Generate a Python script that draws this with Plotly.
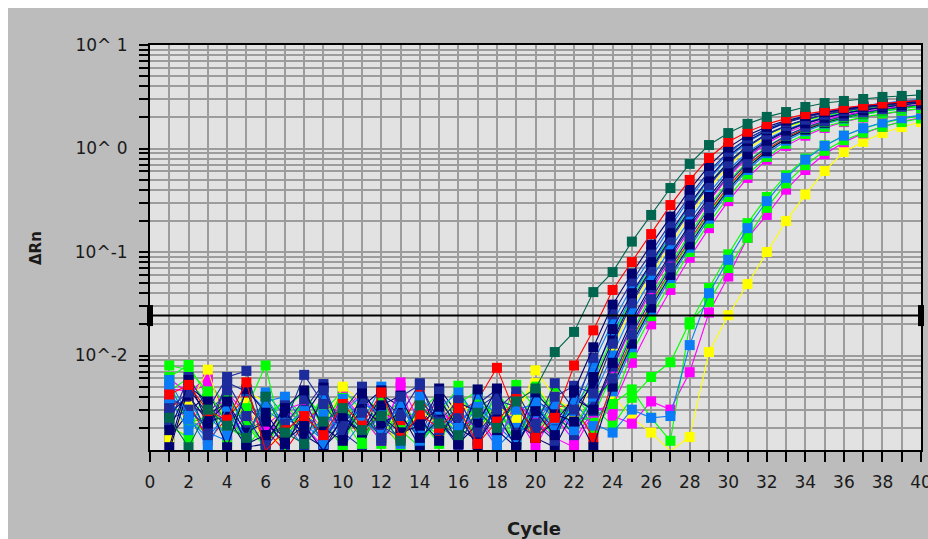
import plotly.graph_objects as go

cycles = list(range(1, 41))

threshold = 0.0243

teal_1 = [0.0025, 0.0013, 0.0030, 0.0021, 0.0016, 0.0040, 0.0018, 0.0014, 0.0023, 0.0031,
          0.0019, 0.0026, 0.0015, 0.0033, 0.0022, 0.0017, 0.0028, 0.0020, 0.0036, 0.0048,
          0.0108, 0.0169, 0.041, 0.064, 0.126, 0.228, 0.415, 0.71, 1.08, 1.41,
          1.73, 2.02, 2.25, 2.52, 2.75, 2.88, 3.01, 3.15, 3.22, 3.30]
red_1 = [0.0042, 0.0052, 0.0029, 0.0024, 0.0055, 0.0012, 0.0019, 0.0026, 0.0017, 0.0034,
         0.0021, 0.0044, 0.0016, 0.0027, 0.0020, 0.0031, 0.0014, 0.0023, 0.0038, 0.0016,
         0.0025, 0.0080, 0.0175, 0.043, 0.080, 0.149, 0.284, 0.497, 0.81, 1.16,
         1.45, 1.72, 1.95, 2.15, 2.32, 2.47, 2.60, 2.72, 2.82, 2.92]
navy_1 = [0.0013, 0.0058, 0.0022, 0.0036, 0.0014, 0.0017, 0.0031, 0.0046, 0.0020, 0.0015,
          0.0043, 0.0026, 0.0018, 0.0021, 0.0032, 0.0014, 0.0047, 0.0019, 0.0013, 0.0029,
          0.0017, 0.0046, 0.012, 0.031, 0.062, 0.118, 0.22, 0.40, 0.68, 1.02,
          1.34, 1.62, 1.86, 2.06, 2.24, 2.40, 2.53, 2.65, 2.75, 2.85]
dblue_1 = [0.0031, 0.0044, 0.0017, 0.0055, 0.0026, 0.0013, 0.0022, 0.0065, 0.0034, 0.0019,
           0.0028, 0.0016, 0.0040, 0.0052, 0.0023, 0.0037, 0.0018, 0.0030, 0.0045, 0.0021,
           0.0054, 0.0030, 0.0095, 0.025, 0.052, 0.100, 0.19, 0.35, 0.60, 0.93,
           1.25, 1.55, 1.80, 2.02, 2.20, 2.37, 2.52, 2.65, 2.76, 2.86]
lblue_1 = [0.0058, 0.0026, 0.0013, 0.0032, 0.0016, 0.0040, 0.0021, 0.0029, 0.0014, 0.0038,
           0.0024, 0.0017, 0.0035, 0.0015, 0.0027, 0.0020, 0.0042, 0.0016, 0.0030, 0.0034,
           0.0019, 0.0035, 0.0085, 0.021, 0.046, 0.090, 0.175, 0.33, 0.57, 0.90,
           1.24, 1.55, 1.82, 2.06, 2.27, 2.45, 2.60, 2.74, 2.86, 2.97]
navy_2 = [0.0019, 0.0050, 0.0036, 0.0013, 0.0047, 0.0028, 0.0015, 0.0021, 0.0012, 0.0026,
          0.0018, 0.0033, 0.0041, 0.0016, 0.0024, 0.0014, 0.0022, 0.0048, 0.0017, 0.0044,
          0.0027, 0.0023, 0.0062, 0.018, 0.040, 0.080, 0.155, 0.29, 0.52, 0.84,
          1.18, 1.50, 1.78, 2.02, 2.22, 2.40, 2.55, 2.68, 2.80, 2.90]
green_1 = [0.0080, 0.0073, 0.0045, 0.0022, 0.0031, 0.0080, 0.0012, 0.0044, 0.0024, 0.0039,
           0.0014, 0.0035, 0.0019, 0.0013, 0.0029, 0.0017, 0.0036, 0.0025, 0.0015, 0.0033,
           0.0021, 0.0032, 0.0058, 0.015, 0.036, 0.072, 0.14, 0.26, 0.46, 0.74,
           1.05, 1.36, 1.63, 1.87, 2.08, 2.26, 2.42, 2.55, 2.67, 2.78]
dblue_2 = [0.0022, 0.0062, 0.0030, 0.0062, 0.0071, 0.0016, 0.0033, 0.0013, 0.0046, 0.0021,
           0.0038, 0.0015, 0.0027, 0.0054, 0.0019, 0.0026, 0.0014, 0.0037, 0.0032, 0.0018,
           0.0040, 0.0051, 0.0043, 0.013, 0.032, 0.066, 0.13, 0.245, 0.44, 0.72,
           1.04, 1.36, 1.65, 1.90, 2.12, 2.31, 2.47, 2.61, 2.73, 2.84]
yellow_1 = [0.0016, 0.0032, 0.0073, 0.0019, 0.0035, 0.0013, 0.0017, 0.0028, 0.0020, 0.0050,
            0.0036, 0.0023, 0.0014, 0.0030, 0.0021, 0.0043, 0.0018, 0.0033, 0.0024, 0.0072,
            0.0040, 0.0028, 0.0050, 0.012, 0.029, 0.060, 0.118, 0.225, 0.41, 0.68,
            0.99, 1.30, 1.58, 1.83, 2.05, 2.24, 2.40, 2.54, 2.66, 2.77]
lblue_2 = [0.0050, 0.0024, 0.0016, 0.0028, 0.0016, 0.0036, 0.0040, 0.0022, 0.0015, 0.0027,
           0.0042, 0.0019, 0.0034, 0.0017, 0.0031, 0.0044, 0.0025, 0.0013, 0.0020, 0.0028,
           0.0033, 0.0019, 0.0040, 0.010, 0.026, 0.055, 0.108, 0.205, 0.37, 0.62,
           0.92, 1.23, 1.52, 1.78, 2.01, 2.21, 2.38, 2.53, 2.66, 2.78]
navy_3 = [0.0027, 0.0041, 0.0023, 0.0026, 0.0013, 0.0014, 0.0028, 0.0017, 0.0013, 0.0020,
          0.0032, 0.0046, 0.0018, 0.0024, 0.0015, 0.0035, 0.0029, 0.0019, 0.0040, 0.0016,
          0.0023, 0.0038, 0.0030, 0.0085, 0.022, 0.048, 0.095, 0.185, 0.34, 0.58,
          0.88, 1.19, 1.49, 1.75, 1.98, 2.18, 2.35, 2.50, 2.63, 2.75]
magenta_1 = [0.0048, 0.0045, 0.0052, 0.0017, 0.0026, 0.0021, 0.0030, 0.0035, 0.0018, 0.0041,
             0.0025, 0.0015, 0.0055, 0.0022, 0.0031, 0.0019, 0.0027, 0.0014, 0.0036, 0.0023,
             0.0016, 0.0013, 0.0028, 0.0075, 0.019, 0.042, 0.084, 0.165, 0.31, 0.53,
             0.82, 1.12, 1.41, 1.67, 1.90, 2.10, 2.27, 2.42, 2.55, 2.66]
green_2 = [0.0062, 0.0081, 0.0039, 0.0014, 0.0048, 0.0016, 0.0021, 0.0036, 0.0029, 0.0045,
           0.0017, 0.0023, 0.0038, 0.0014, 0.0026, 0.0051, 0.0020, 0.0031, 0.0017, 0.0025,
           0.0044, 0.0022, 0.0026, 0.0066, 0.017, 0.038, 0.076, 0.15, 0.28, 0.48,
           0.75, 1.04, 1.33, 1.59, 1.82, 2.02, 2.19, 2.34, 2.47, 2.58]
dblue_3 = [0.0037, 0.0033, 0.0027, 0.0046, 0.0019, 0.0024, 0.0013, 0.0030, 0.0053, 0.0018,
           0.0013, 0.0039, 0.0026, 0.0016, 0.0045, 0.0022, 0.0034, 0.0047, 0.0015, 0.0037,
           0.0028, 0.0017, 0.0036, 0.0060, 0.016, 0.035, 0.071, 0.14, 0.265, 0.46,
           0.73, 1.03, 1.33, 1.60, 1.84, 2.05, 2.23, 2.39, 2.53, 2.65]
red_2 = [0.0033, 0.0036, 0.0015, 0.0025, 0.0040, 0.0019, 0.0012, 0.0022, 0.0034, 0.0027,
         0.0016, 0.0030, 0.0021, 0.0043, 0.0018, 0.0028, 0.0037, 0.0076, 0.0026, 0.0016,
         0.0032, 0.0033, 0.0016, 0.0055, 0.0145, 0.032, 0.066, 0.13, 0.245, 0.43,
         0.69, 0.98, 1.28, 1.56, 1.80, 2.01, 2.19, 2.35, 2.48, 2.60]
lblue_3 = [0.0041, 0.0029, 0.0020, 0.0033, 0.0014, 0.0044, 0.0026, 0.0018, 0.0038, 0.0013,
           0.0023, 0.0050, 0.0017, 0.0032, 0.0021, 0.0015, 0.0039, 0.0027, 0.0019, 0.0030,
           0.0018, 0.0036, 0.0021, 0.0045, 0.012, 0.027, 0.056, 0.11, 0.21, 0.38,
           0.62, 0.90, 1.19, 1.47, 1.72, 1.94, 2.13, 2.29, 2.43, 2.56]
green_3 = [0.0054, 0.0022, 0.0026, 0.0038, 0.0021, 0.0013, 0.0027, 0.0020, 0.0042, 0.0017,
           0.0031, 0.0024, 0.0013, 0.0035, 0.0019, 0.0028, 0.0016, 0.0046, 0.0023, 0.0041,
           0.0030, 0.0026, 0.0019, 0.0034, 0.0105, 0.024, 0.050, 0.10, 0.19, 0.34,
           0.56, 0.83, 1.11, 1.38, 1.62, 1.83, 2.01, 2.17, 2.31, 2.44]
magenta_2 = [0.0060, 0.0043, 0.0063, 0.0025, 0.0030, 0.0018, 0.0023, 0.0032, 0.0016, 0.0029,
             0.0044, 0.0020, 0.0015, 0.0027, 0.0034, 0.0018, 0.0024, 0.0013, 0.0038, 0.0021,
             0.0026, 0.0015, 0.0030, 0.0032, 0.0085, 0.020, 0.043, 0.088, 0.17, 0.31,
             0.52, 0.78, 1.06, 1.33, 1.58, 1.80, 1.99, 2.15, 2.29, 2.42]
lblue_4 = [0.0029, 0.0038, 0.0018, 0.0015, 0.0034, 0.0025, 0.0013, 0.0041, 0.0022, 0.0031,
           0.0017, 0.0026, 0.0036, 0.0014, 0.0024, 0.0030, 0.0019, 0.0045, 0.0016, 0.0023,
           0.0037, 0.0028, 0.0022, 0.0018, 0.0030, 0.0025, 0.0026, 0.0126, 0.040, 0.084,
           0.17, 0.31, 0.52, 0.78, 1.06, 1.33, 1.57, 1.78, 1.96, 2.12]
green_4 = [0.0021, 0.0016, 0.0058, 0.0031, 0.0013, 0.0022, 0.0039, 0.0026, 0.0018, 0.0048,
           0.0029, 0.0014, 0.0033, 0.0023, 0.0017, 0.0040, 0.0026, 0.0020, 0.0052, 0.0031,
           0.0015, 0.0042, 0.0024, 0.0034, 0.0047, 0.0025, 0.0015, 0.020, 0.045, 0.095,
           0.19, 0.34, 0.55, 0.80, 1.07, 1.33, 1.56, 1.76, 1.93, 2.08]
green_6 = [0.0034, 0.0025, 0.0017, 0.0041, 0.0022, 0.0014, 0.0030, 0.0045, 0.0019, 0.0026,
           0.0013, 0.0037, 0.0021, 0.0028, 0.0044, 0.0016, 0.0024, 0.0033, 0.0014, 0.0050,
           0.0027, 0.0018, 0.0032, 0.0021, 0.0039, 0.0062, 0.0086, 0.021, 0.033, 0.070,
           0.137, 0.267, 0.46, 0.69, 0.95, 1.20, 1.42, 1.62, 1.80, 1.95]
magenta_3 = [0.0035, 0.0024, 0.0019, 0.0044, 0.0027, 0.0016, 0.0031, 0.0021, 0.0013, 0.0037,
             0.0025, 0.0018, 0.0049, 0.0015, 0.0028, 0.0022, 0.0036, 0.0017, 0.0027, 0.0013,
             0.0029, 0.0019, 0.0033, 0.0026, 0.0022, 0.0036, 0.0030, 0.0069, 0.026, 0.058,
             0.137, 0.228, 0.40, 0.62, 0.88, 1.15, 1.40, 1.62, 1.82, 1.98]
yellow_2 = [0.0020, 0.0017, 0.0030, 0.0023, 0.0046, 0.0035, 0.0014, 0.0026, 0.0019, 0.0045,
            0.0027, 0.0016, 0.0032, 0.0021, 0.0038, 0.0015, 0.0042, 0.0024, 0.0031, 0.0054,
            0.0028, 0.0037, 0.0022, 0.0041, 0.0025, 0.0018, 0.0012, 0.00163, 0.0108, 0.0245,
            0.049, 0.100, 0.199, 0.36, 0.607, 0.925, 1.16, 1.41, 1.61, 1.80]
navy_4 = [0.0012, 0.0048, 0.0027, 0.0035, 0.0018, 0.0023, 0.0014, 0.0026, 0.0049, 0.0016,
          0.0031, 0.0022, 0.0028, 0.0013, 0.0038, 0.0020, 0.0015, 0.0027, 0.0013, 0.0032,
          0.0019, 0.0031, 0.0052, 0.014, 0.034, 0.069, 0.135, 0.255, 0.455, 0.74,
          1.06, 1.38, 1.66, 1.91, 2.13, 2.32, 2.49, 2.64, 2.77, 2.88]
dblue_4 = [0.0024, 0.0030, 0.0020, 0.0055, 0.0045, 0.0017, 0.0021, 0.0038, 0.0015, 0.0029,
           0.0050, 0.0021, 0.0016, 0.0036, 0.0024, 0.0013, 0.0031, 0.0042, 0.0018, 0.0022,
           0.0015, 0.0042, 0.0029, 0.0078, 0.020, 0.045, 0.090, 0.175, 0.32, 0.55,
           0.85, 1.16, 1.46, 1.73, 1.97, 2.18, 2.36, 2.52, 2.66, 2.78]
lblue_5 = [0.0038, 0.0019, 0.0026, 0.0017, 0.0046, 0.0030, 0.0022, 0.0013, 0.0027, 0.0019,
           0.0034, 0.0028, 0.0014, 0.0040, 0.0025, 0.0018, 0.0032, 0.0021, 0.0014, 0.0039,
           0.0024, 0.0029, 0.0068, 0.016, 0.038, 0.076, 0.148, 0.28, 0.50, 0.81,
           1.15, 1.48, 1.77, 2.02, 2.24, 2.43, 2.59, 2.73, 2.86, 2.97]
green_5 = [0.0045, 0.0061, 0.0033, 0.0020, 0.0016, 0.0027, 0.0036, 0.0019, 0.0023, 0.0013,
           0.0040, 0.0029, 0.0018, 0.0024, 0.0014, 0.0034, 0.0046, 0.0021, 0.0027, 0.0017,
           0.0036, 0.0020, 0.0042, 0.0052, 0.014, 0.031, 0.064, 0.125, 0.235, 0.41,
           0.66, 0.95, 1.24, 1.51, 1.75, 1.96, 2.14, 2.30, 2.44, 2.56]
navy_5 = [0.0016, 0.0028, 0.0043, 0.0022, 0.0033, 0.0021, 0.0017, 0.0030, 0.0014, 0.0024,
          0.0018, 0.0042, 0.0032, 0.0019, 0.0048, 0.0027, 0.0013, 0.0035, 0.0023, 0.0016,
          0.0013, 0.0030, 0.0013, 0.0050, 0.013, 0.029, 0.060, 0.118, 0.225, 0.40,
          0.65, 0.94, 1.24, 1.52, 1.77, 1.99, 2.18, 2.34, 2.48, 2.61]

TEAL = "#00664f"
RED = "#ff0000"
NAVY = "#000070"
DBLUE = "#1c2c9c"
LBLUE = "#0a7cf8"
GREEN = "#00ff00"
YELLOW = "#ffff00"
MAGENTA = "#ff00ff"

series = [
    ("yellow_2", yellow_2, YELLOW),
    ("magenta_3", magenta_3, MAGENTA),
    ("green_4", green_4, GREEN),
    ("green_6", green_6, GREEN),
    ("lblue_4", lblue_4, LBLUE),
    ("magenta_2", magenta_2, MAGENTA),
    ("green_3", green_3, GREEN),
    ("lblue_3", lblue_3, LBLUE),
    ("red_2", red_2, RED),
    ("green_5", green_5, GREEN),
    ("navy_5", navy_5, NAVY),
    ("green_2", green_2, GREEN),
    ("magenta_1", magenta_1, MAGENTA),
    ("dblue_3", dblue_3, DBLUE),
    ("yellow_1", yellow_1, YELLOW),
    ("lblue_2", lblue_2, LBLUE),
    ("green_1", green_1, GREEN),
    ("dblue_4", dblue_4, DBLUE),
    ("navy_3", navy_3, NAVY),
    ("lblue_5", lblue_5, LBLUE),
    ("navy_4", navy_4, NAVY),
    ("dblue_2", dblue_2, DBLUE),
    ("lblue_1", lblue_1, LBLUE),
    ("navy_2", navy_2, NAVY),
    ("dblue_1", dblue_1, DBLUE),
    ("navy_1", navy_1, NAVY),
    ("red_1", red_1, RED),
    ("teal_1", teal_1, TEAL),
]

x_tick_labels = [str(v) for v in range(0, 41, 2)]
y_tick_vals = [0.01, 0.1, 1, 10]
y_tick_text = ["10^-2", "10^-1", "10^ 0", "10^ 1"]
y_minor_mult = [2, 3, 4, 5, 6, 7, 8, 9]
y_decades = [0.001, 0.01, 0.1, 1]

fig = go.Figure()
for name, vals, col in series:
    fig.add_trace(go.Scatter(
        x=cycles, y=vals, mode="lines+markers", name=name,
        line=dict(color=col, width=1.1),
        marker=dict(symbol="square", size=10, color=col, line=dict(width=0)),
        showlegend=False, hoverinfo="skip",
    ))

fig.add_trace(go.Scatter(
    x=[0, 40], y=[threshold, threshold], mode="lines+markers",
    line=dict(color="black", width=2),
    marker=dict(symbol="line-ns", size=15, color="black",
                line=dict(width=6, color="black")),
    showlegend=False, cliponaxis=False, hoverinfo="skip",
))

W, H = 928, 539
L, R, T, B = 150, 7, 45, 89
pw, ph = W - L - R, H - T - B

def px_x(p):
    return (p - L) / pw

def px_y(p):
    return (H - B - p) / ph

font_main = "DejaVu Sans"
grid_col = "#9c9c9c"

fig.update_layout(
    width=W, height=H, autosize=False,
    margin=dict(l=L, r=R, t=T, b=B, autoexpand=False),
    paper_bgcolor="#bcbcbc",
    plot_bgcolor="#e2e2e2",
    font=dict(family=font_main, size=17, color="#1a1a1a"),
    hovermode=False,
    xaxis=dict(
        range=[0, 40], tickmode="array",
        tickvals=list(range(0, 41, 2)), ticktext=x_tick_labels,
        ticks="outside", ticklen=10, tickwidth=2, tickcolor="black",
        showline=True, linecolor="black", linewidth=2, mirror=True,
        showgrid=True, gridcolor=grid_col, gridwidth=2,
        zeroline=False, automargin=False,
        ticklabelstandoff=6,
        ticklabeloverflow="allow",
        minor=dict(tickvals=list(range(1, 40, 2)), ticks="outside", ticklen=10,
                   tickwidth=2, tickcolor="black", showgrid=True,
                   gridcolor=grid_col, gridwidth=2),
    ),
    yaxis=dict(
        type="log", range=[-2.913, 1.0],
        tickmode="array", tickvals=y_tick_vals, ticktext=y_tick_text,
        ticks="outside", ticklen=9, tickwidth=2, tickcolor="black",
        showline=True, linecolor="black", linewidth=2, mirror=True,
        showgrid=True, gridcolor=grid_col, gridwidth=2,
        zeroline=False, automargin=False,
        ticklabelstandoff=8,
        minor=dict(tickvals=[d * m for d in y_decades for m in y_minor_mult],
                   ticks="outside", ticklen=9, tickwidth=2, tickcolor="black",
                   showgrid=True, gridcolor=grid_col, gridwidth=2),
    ),
    shapes=[
        dict(type="rect", xref="paper", yref="paper", layer="below",
             x0=px_x(0), x1=px_x(W), y0=px_y(0), y1=px_y(8),
             fillcolor="white", line=dict(width=0)),
        dict(type="rect", xref="paper", yref="paper", layer="below",
             x0=px_x(0), x1=px_x(8), y0=px_y(0), y1=px_y(H),
             fillcolor="white", line=dict(width=0)),
    ],
    annotations=[
        dict(text="<b>ΔRn</b>", xref="paper", yref="paper",
             x=px_x(36), y=px_y(248), textangle=-90, showarrow=False,
             font=dict(family=font_main, size=15, color="#1a1a1a"),
             xanchor="center", yanchor="middle"),
        dict(text="<b>Cycle</b>", xref="paper", yref="paper",
             x=px_x(534), y=px_y(528), showarrow=False,
             font=dict(family=font_main, size=18, color="#1a1a1a"),
             xanchor="center", yanchor="middle"),
    ],
)

fig.write_html(
    "out.html",
    config={"displayModeBar": False, "staticPlot": True},
    post_script="document.documentElement.style.overflow='hidden';"
                "document.body.style.overflow='hidden';"
                "document.body.style.margin='0';",
)
